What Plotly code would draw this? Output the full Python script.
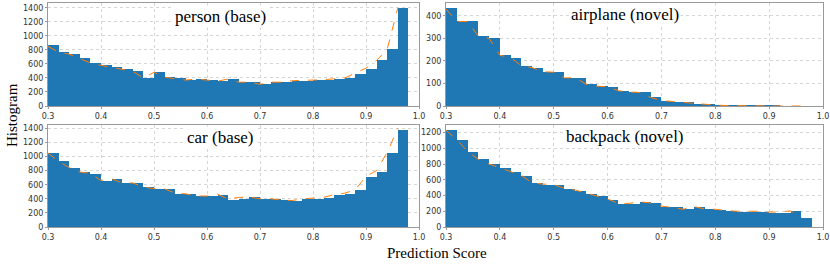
import plotly.graph_objects as go
from plotly.subplots import make_subplots

# Bin left edges (bin width 0.02)
bin_edges = [round(0.30 + 0.02 * i, 2) for i in range(34)]
bin_width = 0.02

person_counts = [870, 770, 745, 690, 620, 580, 555, 530, 500, 400,
                 490, 415, 395, 370, 385, 365, 355, 385, 340, 340,
                 315, 340, 340, 360, 360, 370, 375, 385, 395, 460,
                 525, 650, 815, 1400]
person_line = [850, 770, 740, 680, 615, 580, 550, 525, 495, 400,
               480, 410, 395, 370, 385, 365, 355, 385, 340, 340,
               310, 340, 340, 360, 360, 370, 375, 385, 400, 470,
               540, 650, 810, 1400]

airplane_counts = [435, 375, 375, 310, 300, 225, 215, 178, 170, 152,
                   150, 125, 125, 97, 88, 85, 68, 62, 60, 38,
                   24, 18, 16, 10, 6, 4, 2, 1, 1, 1,
                   1, 0, 0, 0]
airplane_line = [430, 375, 375, 310, 300, 225, 215, 178, 170, 152,
                 150, 125, 125, 97, 88, 85, 68, 62, 60, 38,
                 24, 20, 16, 10, 6, 4, 2, 1, 1, 1,
                 1, 0, 0, 0]

car_counts = [1060, 940, 850, 785, 765, 660, 685, 630, 630, 570,
              550, 545, 480, 475, 445, 440, 460, 390, 410, 430,
              400, 400, 385, 375, 410, 405, 425, 465, 480, 535,
              715, 790, 1060, 1385]
car_line = [1050, 930, 845, 780, 760, 660, 685, 625, 625, 565,
            545, 540, 480, 470, 440, 440, 465, 395, 420, 425,
            400, 400, 385, 375, 400, 405, 420, 460, 480, 530,
            720, 800, 1060, 1400]

backpack_counts = [1240, 1115, 965, 865, 805, 750, 700, 660, 560, 545,
                   545, 490, 470, 430, 400, 355, 300, 300, 320, 305,
                   265, 255, 235, 265, 230, 225, 210, 200, 200, 200,
                   190, 190, 210, 120]
backpack_line = [1230, 1110, 960, 860, 800, 750, 700, 655, 560, 545,
                 540, 490, 470, 430, 395, 355, 300, 300, 320, 305,
                 265, 250, 225, 260, 230, 225, 210, 200, 200, 200,
                 190, 190, 205, 120]

panel_titles = ["person (base)", "airplane (novel)", "car (base)", "backpack (novel)"]
x_ticks = [0.3, 0.4, 0.5, 0.6, 0.7, 0.8, 0.9, 1.0]
x_tick_labels = ["0.3", "0.4", "0.5", "0.6", "0.7", "0.8", "0.9", "1.0"]
y_dtick = [200, 100, 200, 200]

panels = [
    (person_counts, person_line, 1, 1),
    (airplane_counts, airplane_line, 1, 2),
    (car_counts, car_line, 2, 1),
    (backpack_counts, backpack_line, 2, 2),
]

fig = make_subplots(rows=2, cols=2)

BAR = "#1f77b4"
LINE = "#ff7f0e"
for counts, line, r, c in panels:
    fig.add_trace(go.Bar(x=bin_edges, y=counts, width=bin_width, offset=0,
                         marker=dict(color=BAR, line=dict(width=0)),
                         showlegend=False, hoverinfo="skip"), row=r, col=c)
    fig.add_trace(go.Scatter(x=bin_edges, y=line, mode="lines",
                             line=dict(color=LINE, width=1, dash="dash"),
                             showlegend=False, hoverinfo="skip"), row=r, col=c)

W, H = 830, 265
xd = [(48 / W, 419 / W), (446 / W, 823 / W)]
yd = [(1 - 106 / H, 1 - 3 / H), (1 - 227 / H, 1 - 124.5 / H)]

tick_font = dict(family="DejaVu Sans", size=8, color="#333333")
axis_idx = 0
for r in (1, 2):
    for c in (1, 2):
        counts = panels[axis_idx][0]
        ymax = max(counts) * 1.05
        fig.update_xaxes(row=r, col=c, domain=xd[c - 1], range=[0.3, 1.0],
                         tickvals=x_ticks, ticktext=x_tick_labels,
                         tickfont=tick_font, showgrid=True, gridcolor="#d5d5d5",
                         griddash="dot", gridwidth=1, showline=True,
                         linecolor="#999999", linewidth=1, mirror=True,
                         ticks="outside", ticklen=2, tickcolor="#999999",
                         zeroline=False, automargin=False,
                         ticklabeloverflow="allow")
        fig.update_yaxes(row=r, col=c, domain=yd[r - 1], range=[0, ymax],
                         dtick=y_dtick[axis_idx], tick0=0,
                         tickfont=tick_font, showgrid=True, gridcolor="#d5d5d5",
                         griddash="dot", gridwidth=1, showline=True,
                         linecolor="#999999", linewidth=1, mirror=True,
                         ticks="outside", ticklen=2, tickcolor="#999999",
                         zeroline=False, automargin=False,
                         ticklabeloverflow="allow")
        axis_idx += 1

# Panel titles
title_pos = [(1, 0.625, 17 / H), (2, 0.632, 15 / H), (3, 0.625, 137 / H), (4, 0.632, 136 / H)]
for (n, xv, yoff), txt in zip(title_pos, panel_titles):
    xa = "x" if n == 1 else f"x{n}"
    fig.add_annotation(x=xv, xref=xa, y=1 - yoff, yref="paper", text=txt,
                       showarrow=False, bgcolor="white", borderpad=1,
                       font=dict(family="Liberation Serif", size=17, color="black"),
                       xanchor="center", yanchor="middle")

fig.add_annotation(x=12 / W, xref="paper", y=1 - 115 / H, yref="paper",
                   text="Histogram", textangle=-90, showarrow=False,
                   font=dict(family="Liberation Serif", size=15, color="black"),
                   xanchor="center", yanchor="middle")
fig.add_annotation(x=437 / W, xref="paper", y=1 - 253 / H, yref="paper",
                   text="Prediction Score", showarrow=False,
                   font=dict(family="Liberation Serif", size=15, color="black"),
                   xanchor="center", yanchor="middle")

fig.update_layout(width=W, height=H, margin=dict(l=0, r=0, t=0, b=0),
                  plot_bgcolor="white", paper_bgcolor="white", bargap=0,
                  hovermode=False)

fig.write_html("out.html",
               config={"displayModeBar": False},
               post_script="document.body.style.margin='0px';"
                           "document.body.style.overflow='hidden';")
